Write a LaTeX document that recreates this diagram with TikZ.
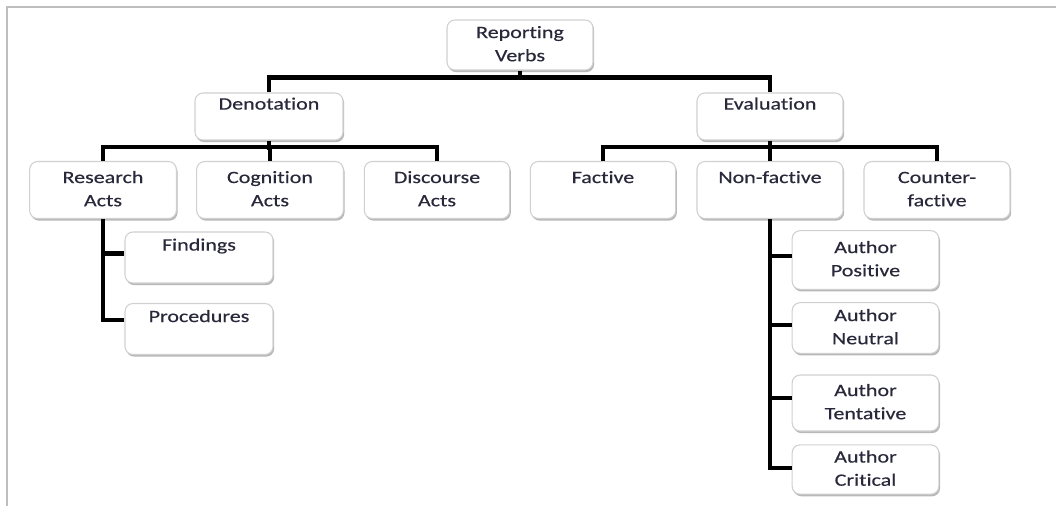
\documentclass[tikz,border=0pt]{standalone}
\usepackage{fontspec}
\setmainfont{Carlito}[FakeStretch=1.27, FakeBold=0.35, RawFeature=-liga]
\usetikzlibrary{shadows}
\definecolor{txt}{RGB}{40,40,58}
\definecolor{boxline}{RGB}{208,208,208}
\definecolor{frame}{RGB}{190,190,190}
\tikzset{
  tbox/.style={draw=boxline, line width=0.8pt, fill=white, rounded corners=6pt,
    align=center, inner sep=0pt, text=txt,
    font=\fontsize{13}{17.4}\selectfont,
    drop shadow={shadow xshift=0.9pt, shadow yshift=-1.6pt, fill=black, opacity=0.28}},
  conn/.style={line width=3.2pt, black},
}
\begin{document}
\begin{tikzpicture}[x=0.75pt, y=-0.75pt]
\useasboundingbox (0,0) rectangle (1056,506);
\fill[white] (0,0) rectangle (1056,506);
\draw[frame, line width=1.2pt] (1056,7) -- (7,7) -- (7,506);

% level 1
\node[tbox, minimum width=109.5pt, minimum height=37.5pt] (root) at (520,45) {\strut Reporting\\\strut Verbs};
% level 2
\node[tbox, minimum width=111pt, minimum height=35.25pt] (den) at (269,116.5) {\strut Denotation\\\strut};
\node[tbox, minimum width=109.5pt, minimum height=35.25pt] (eva) at (770,116.5) {\strut Evaluation\\\strut};
% level 3
\node[tbox, minimum width=110pt, minimum height=42.75pt] (ra) at (103,190) {\strut Research\\\strut Acts};
\node[tbox, minimum width=110pt, minimum height=42.75pt] (ca) at (270,190) {\strut Cognition\\\strut Acts};
\node[tbox, minimum width=109pt, minimum height=42.75pt] (da) at (437,190) {\strut Discourse\\\strut Acts};
\node[tbox, minimum width=109pt, minimum height=42.75pt] (fa) at (603,190) {\strut Factive\\\strut};
\node[tbox, minimum width=109.5pt, minimum height=42.75pt] (nf) at (770,190) {\strut Non-factive\\\strut};
\node[tbox, minimum width=109.5pt, minimum height=42.75pt] (cf) at (937,190) {\strut Counter-\\\strut factive};
% level 4 left
\node[tbox, minimum width=111pt, minimum height=38.25pt] (fi) at (199,257.5) {\strut Findings\\\strut};
\node[tbox, minimum width=111pt, minimum height=38.25pt] (pr) at (199,329) {\strut Procedures\\\strut};
% level 4 right
\node[tbox, minimum width=110pt, minimum height=44pt] (ap) at (865.5,260) {\strut Author\\\strut Positive};
\node[tbox, minimum width=110pt, minimum height=38pt] (an) at (865.5,328) {\strut Author\\\strut Neutral};
\node[tbox, minimum width=110pt, minimum height=42pt] (at) at (865.5,403) {\strut Author\\\strut Tentative};
\node[tbox, minimum width=110pt, minimum height=37pt] (ac) at (865.5,469.5) {\strut Author\\\strut Critical};

% connectors
\draw[conn] (root.south) -- ++(0,8);
\draw[conn] (den.north) -- ++(0,-15) -| (eva.north);
\draw[conn] (den.south) -- ++(0,9);
\draw[conn] (ra.north) -- ++(0,-14) -| (da.north);
\draw[conn] (ca.north) -- ++(0,-14);
\draw[conn] (eva.south) -- ++(0,9);
\draw[conn] (fa.north) -- ++(0,-14) -| (cf.north);
\draw[conn] (nf.north) -- ++(0,-14);
\draw[conn] (ra.south) |- ([yshift=3pt]fi.west);
\draw[conn] (ra.south) |- ([yshift=7pt]pr.west);
\draw[conn] (nf.south) |- ([yshift=3pt]ap.west);
\draw[conn] (nf.south) |- ([yshift=2pt]an.west);
\draw[conn] (nf.south) |- ([yshift=4pt]at.west);
\draw[conn] (nf.south) |- ([yshift=1pt]ac.west);
\end{tikzpicture}
\end{document}
